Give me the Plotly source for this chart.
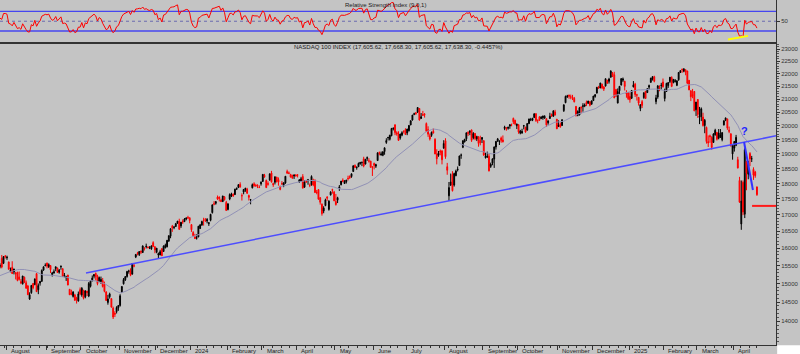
import numpy as np
import pandas as pd
import plotly.graph_objects as go

# ---------------- data ----------------
holidays = ["2023-09-04", "2023-11-23", "2023-12-25", "2024-01-01", "2024-01-15",
            "2024-02-19", "2024-03-29", "2024-05-27", "2024-06-19", "2024-07-04",
            "2024-09-02", "2024-11-28", "2024-12-25", "2025-01-01", "2025-01-09",
            "2025-01-20", "2025-02-17", "2025-04-18"]
dates = pd.bdate_range("2023-07-26", "2025-04-21", freq="C", holidays=holidays)

# closes before the visible window (12 Jun - 25 Jul 2023), used for the average / RSI warm-up
warmup_close = [14738, 14858, 14979, 15179, 15083, 15062, 14852, 15042, 14891, 14675,
                14917, 14940, 14892, 15179, 15183, 15213, 15082, 15036, 15009, 15077,
                15319, 15632, 15565, 15762, 15871, 15842, 15485, 15407, 15434, 15534]

open_ = [
    15480, 15700, 15560, 15770,
    15720, 15600, 15330, 15450, 15320, 15290, 15310, 15180, 15050, 14990, 15170, 15020, 14930, 14580, 14750, 15000, 14970, 15270, 14830, 15010, 15060, 15370, 15490,
    15570, 15460, 15500, 15240, 15290, 15410, 15430, 15310, 15460, 15410, 15190, 15160, 15230, 14840, 14740, 14650, 14690, 14600, 14530, 14830,
    14690, 14810, 14640, 14790, 14660, 14920, 15070, 15200, 15280, 15200, 15060, 15050, 15080, 14970, 14770, 14490, 14640, 14590, 14340, 14210, 14250, 14350,
    14410, 14770, 14990, 15100, 15190, 15330, 15360, 15260, 15490, 15740, 15860, 15810, 15910, 15870, 16000, 16040, 16030, 16000, 15980, 16160, 16040,
    15880, 15800, 15800, 15980, 15900, 16010, 16040, 16210, 16350, 16650, 16610, 16640, 16740, 16800, 16660, 16800, 16790, 16870, 16920, 16910,
    16700, 16460, 16330, 16290, 16330, 16580, 16690, 16840, 16860, 16810, 16730, 16830, 17070, 17350, 17360, 17560, 17560, 17460, 17420, 17570, 17390,
    17170, 17500, 17600, 17650, 17640, 17810, 17870, 17970, 17610, 17720, 17800, 17820, 17610, 17470, 17860, 17990, 17940, 17950, 17880, 17990,
    18070, 18270, 18100, 18000, 18110, 18350, 18000, 18040, 18210, 18130, 17900, 18000, 17930, 18020, 18400, 18350, 18300, 18270, 18250, 18280,
    18290, 18060, 18070, 18230, 17880, 18090, 18100, 17940, 17960, 18110, 18100, 17710, 17800, 17540, 17330, 17120, 17290, 17560, 17170, 17630, 17800, 17720,
    17420, 17460, 17830, 17960, 18110, 18000, 18060, 18170, 18230, 18230, 18400, 18600, 18530, 18560, 18660, 18700, 18830, 18650, 18840, 18760, 18750, 18560,
    18670, 18580, 18770, 19050, 18960, 18950, 19080, 19400, 19570, 19510, 19640, 19890, 20030, 19750, 19690, 19560, 19660, 19790, 19860,
    19740, 19820, 20030, 20210, 20420, 20480, 20510, 20640, 20270, 20420, 20420, 20080, 19860, 19640, 19650, 19800, 19510, 19000, 18950, 19100, 19100, 19200,
    19460, 18560, 17600, 17950, 18300, 17950, 18260, 18450, 18600, 18950, 19230, 19420, 19530, 19760, 19760, 19850, 19570, 19720, 19520, 19600, 19480, 19510,
    19460, 18870, 18880, 18920, 18570, 18690, 18820, 19240, 19440, 19430, 19560, 19490, 19900, 19930, 19910, 19990, 20030, 20270, 20200, 20000,
    20040, 19730, 19740, 19990, 19950, 19840, 20080, 20210, 20200, 20300, 20440, 20200, 20330, 20260, 20290, 20290, 20260, 20110, 20270, 20420, 20350, 20510, 20240,
    19970, 20050, 20010, 20560, 20860, 21090, 21150, 21080, 21060, 21030, 20720, 20380, 20400, 20700, 20720, 20730, 20870, 20840, 20900, 20800,
    20940, 21100, 21230, 21470, 21430, 21570, 21470, 21500, 21730, 21690, 21850, 22010, 21950, 21370, 20850, 21320, 21540, 21730, 21690, 21240, 21250,
    21100, 21030, 21470, 21580, 21160, 21060, 20640, 20900, 21050, 21300, 21250, 21460, 21650, 21770, 21870, 20900, 21080, 21450, 21520, 21660,
    21020, 21290, 21520, 21680, 21840, 21640, 21680, 21530, 21750, 22040, 22170, 22090, 22150, 22100, 21730, 21320, 21170, 21290, 20590,
    20980, 20310, 20340, 20320, 20010, 19940, 19430, 19640, 19580, 19400, 19680, 19760, 19550, 19580, 19500, 20030, 20200, 20250, 19840, 19710, 19000,
    19200, 19300, 18800, 18100, 16720, 18040, 17020, 18740, 18310, 19010, 18830, 18470, 18380, 17890,
]

high = [
    15560, 15800, 15770, 15800,
    15780, 15610, 15440, 15620, 15410, 15320, 15320, 15330, 15120, 15210, 15190, 15080, 14960, 14760, 14960, 15010, 15140, 15290, 15000, 15070, 15390, 15470, 15560,
    15580, 15560, 15510, 15320, 15390, 15470, 15440, 15400, 15500, 15420, 15290, 15210, 15240, 14850, 14830, 14790, 14720, 14640, 14780, 14890,
    14900, 14830, 14810, 14800, 15040, 15080, 15220, 15260, 15300, 15240, 15190, 15190, 15150, 15050, 14790, 14690, 14750, 14600, 14380, 14260, 14390, 14420,
    14710, 14920, 15150, 15200, 15350, 15380, 15420, 15570, 15550, 15830, 15890, 15910, 15930, 16080, 16020, 16130, 16050, 16060, 16080, 16200, 16050,
    16000, 15870, 15950, 16000, 16080, 16130, 16230, 16370, 16590, 16690, 16660, 16750, 16810, 16880, 16780, 16860, 16900, 16910, 16970, 16920,
    16710, 16500, 16420, 16410, 16660, 16720, 16820, 16910, 16900, 16900, 16770, 17030, 17320, 17430, 17420, 17610, 17580, 17510, 17600, 17590, 17440,
    17360, 17680, 17700, 17680, 17830, 17870, 17980, 18040, 17680, 17820, 17860, 17860, 17640, 17500, 18000, 18040, 17990, 17970, 17940, 18070,
    18310, 18320, 18130, 18070, 18340, 18420, 18030, 18230, 18220, 18200, 17930, 18080, 18030, 18240, 18460, 18400, 18320, 18290, 18290, 18310,
    18310, 18140, 18220, 18310, 18110, 18120, 18150, 18000, 18270, 18160, 18140, 17790, 17820, 17560, 17360, 17270, 17510, 17590, 17460, 17750, 17830, 17760,
    17660, 17570, 17950, 18080, 18170, 18110, 18120, 18260, 18270, 18330, 18600, 18640, 18560, 18700, 18720, 18740, 18900, 18830, 18910, 18850, 18760, 18570,
    18700, 18660, 19050, 19080, 19080, 19080, 19220, 19550, 19600, 19670, 19920, 19940, 20060, 19800, 19800, 19710, 19800, 19840, 19910,
    19890, 20020, 20190, 20400, 20480, 20510, 20690, 20650, 20470, 20550, 20470, 20120, 19980, 19720, 19790, 19900, 19550, 19160, 19100, 19150, 19130, 19480,
    19550, 18690, 18050, 18330, 18410, 18360, 18460, 18570, 18940, 19010, 19480, 19530, 19750, 19800, 19840, 19860, 19770, 19740, 19640, 19620, 19640, 19590,
    19480, 19060, 19080, 19000, 18700, 18840, 19260, 19450, 19560, 19470, 19610, 19650, 20000, 19950, 19960, 20060, 20080, 20300, 20220, 20080,
    20050, 19850, 19890, 20030, 19960, 20100, 20260, 20290, 20290, 20460, 20470, 20230, 20350, 20350, 20370, 20390, 20270, 20190, 20480, 20450, 20570, 20590, 20250,
    20200, 20120, 20240, 20790, 21130, 21160, 21170, 21170, 21160, 21080, 20730, 20570, 20700, 20710, 20840, 20830, 20940, 20930, 20910, 20940,
    21120, 21170, 21460, 21510, 21630, 21600, 21500, 21800, 21750, 21830, 22133, 22060, 22070, 21390, 21410, 21500, 21800, 21840, 21710, 21340, 21270,
    21250, 21350, 21700, 21630, 21200, 21080, 20800, 20960, 21260, 21310, 21420, 21560, 21830, 21890, 21910, 21160, 21540, 21530, 21630, 21800,
    21400, 21630, 21650, 21860, 21890, 21780, 21780, 21740, 22050, 22130, 22200, 22222, 22170, 22110, 21740, 21330, 21390, 21310, 20890,
    21000, 20700, 20680, 20480, 20250, 19970, 19650, 19680, 19620, 19730, 19890, 19770, 19880, 19880, 19760, 20200, 20300, 20260, 19970, 19720, 19310,
    19450, 19670, 18900, 18220, 18100, 18100, 19200, 18760, 18760, 19060, 18930, 18540, 18420, 17900,
]

low = [
    15420, 15420, 15540, 15700,
    15660, 15380, 15310, 15260, 15250, 15110, 15060, 15080, 14980, 14970, 15010, 14860, 14690, 14557, 14720, 14840, 14950, 14770, 14710, 14940, 15040, 15350, 15480,
    15420, 15430, 15290, 15190, 15270, 15340, 15290, 15270, 15380, 15180, 15170, 15070, 14950, 14690, 14680, 14620, 14530, 14460, 14510, 14680,
    14640, 14570, 14600, 14660, 14630, 14890, 15060, 15140, 15080, 14950, 15050, 14990, 14890, 14760, 14530, 14430, 14590, 14350, 14058, 14110, 14200, 14270,
    14380, 14740, 14970, 15070, 15160, 15270, 15200, 15240, 15450, 15710, 15790, 15770, 15830, 15860, 15930, 15990, 15990, 15970, 15950, 16030, 15850,
    15850, 15710, 15790, 15770, 15890, 15990, 16020, 16180, 16290, 16480, 16560, 16630, 16730, 16550, 16600, 16720, 16780, 16830, 16890, 16740,
    16480, 16350, 16270, 16250, 16320, 16570, 16660, 16670, 16780, 16740, 16660, 16800, 17040, 17300, 17320, 17470, 17420, 17400, 17400, 17450, 17130,
    17140, 17460, 17560, 17570, 17630, 17790, 17850, 17870, 17450, 17650, 17730, 17660, 17450, 17330, 17840, 17890, 17900, 17850, 17850, 17930,
    18050, 18190, 17860, 17930, 18100, 18030, 17890, 17970, 18030, 17930, 17780, 17960, 17880, 17990, 18330, 18310, 18210, 18160, 18150, 18230,
    18200, 18020, 18070, 17840, 17860, 18020, 17960, 17880, 17930, 17910, 17700, 17650, 17480, 17320, 16975, 17050, 17270, 17440, 17130, 17610, 17670, 17430,
    17290, 17370, 17760, 17940, 18040, 17990, 18000, 18100, 18150, 18190, 18390, 18520, 18460, 18550, 18630, 18580, 18540, 18640, 18760, 18700, 18530, 18250,
    18470, 18520, 18760, 18950, 18940, 18920, 18970, 19350, 19470, 19470, 19620, 19830, 19660, 19640, 19460, 19500, 19620, 19720, 19680,
    19660, 19790, 20020, 20190, 20390, 20400, 20470, 20190, 20250, 20360, 20300, 19790, 19600, 19470, 19600, 19720, 18990, 18640, 18900, 18950, 18640, 19180,
    18830, 18290, 17434, 17920, 17740, 17900, 18240, 18400, 18590, 18830, 19200, 19400, 19450, 19630, 19660, 19420, 19510, 19480, 19450, 19250, 19300, 19380,
    18930, 18840, 18870, 18400, 18520, 18610, 18520, 19150, 19430, 19310, 19390, 19400, 19840, 19820, 19860, 19890, 19980, 20060, 20020, 19880,
    19710, 19690, 19710, 19870, 19750, 19830, 20060, 20170, 20170, 20290, 20140, 20090, 20180, 20250, 20220, 20250, 19960, 20040, 20250, 20330, 20330, 20380, 19880,
    19960, 19930, 20000, 20510, 20840, 21040, 21010, 20990, 20960, 20870, 20340, 20350, 20380, 20460, 20520, 20690, 20730, 20810, 20720, 20790,
    20930, 21050, 21210, 21400, 21420, 21380, 21310, 21490, 21600, 21600, 21840, 21860, 21030, 21090, 20830, 21190, 21530, 21660, 21330, 21050, 20960,
    20860, 21000, 21450, 21080, 20940, 20750, 20540, 20660, 21010, 21010, 21230, 21360, 21630, 21720, 21650, 20800, 21010, 21300, 21370, 21440,
    20910, 21280, 21430, 21620, 21460, 21610, 21640, 21500, 21710, 22020, 22030, 22050, 21930, 21580, 21340, 20920, 21030, 20540, 20360,
    20290, 20060, 20170, 19970, 19730, 19360, 19240, 19390, 19150, 19390, 19640, 19470, 19510, 19570, 19440, 20010, 20170, 19850, 19730, 19260, 18800,
    19080, 19270, 18500, 17380, 16542, 16990, 16900, 17780, 18140, 18580, 18720, 18120, 18190, 17600,
]

close = [
    15496, 15455, 15751, 15757,
    15735, 15394, 15365, 15274, 15398, 15266, 15083, 15113, 15018, 15205, 15032, 14868, 14694, 14694, 14945, 14884, 15123, 14777, 14941, 15052, 15360, 15463, 15501,
    15483, 15523, 15382, 15291, 15324, 15462, 15304, 15368, 15477, 15203, 15222, 15185, 14958, 14694, 14701, 14769, 14547, 14572, 14715, 14715,
    14870, 14602, 14799, 14754, 14998, 15070, 15150, 15245, 15189, 14995, 15162, 15112, 14918, 14785, 14542, 14581, 14717, 14367, 14109, 14181, 14355, 14410,
    14666, 14918, 15107, 15189, 15331, 15345, 15227, 15557, 15486, 15813, 15838, 15898, 15883, 16060, 15991, 16049, 16014, 16001, 16063, 16046, 15947,
    15997, 15838, 15895, 15777, 16056, 16085, 16229, 16367, 16575, 16603, 16623, 16730, 16807, 16554, 16770, 16777, 16871, 16906, 16898, 16826,
    16544, 16368, 16282, 16306, 16650, 16690, 16794, 16830, 16833, 16856, 16757, 17017, 17314, 17335, 17417, 17499, 17516, 17422, 17596, 17476, 17137,
    17345, 17642, 17656, 17593, 17814, 17840, 17963, 17882, 17600, 17807, 17845, 17686, 17551, 17481, 17963, 17937, 17919, 17933, 17874, 18044,
    18302, 18223, 17866, 17975, 18317, 18051, 17960, 18223, 18068, 18047, 17808, 17985, 18025, 18240, 18339, 18339, 18211, 18176, 18284, 18255,
    18271, 18121, 18158, 17850, 18052, 18058, 18127, 17935, 18233, 17955, 17706, 17707, 17493, 17395, 17037, 17211, 17471, 17527, 17430, 17718, 17783, 17441,
    17322, 17541, 17890, 18080, 18072, 18069, 18114, 18161, 18200, 18322, 18593, 18537, 18546, 18674, 18710, 18705, 18588, 18808, 18869, 18752, 18539, 18536,
    18608, 18631, 19035, 19022, 19000, 19075, 19211, 19466, 19577, 19659, 19903, 19908, 19752, 19700, 19473, 19701, 19750, 19789, 19683,
    19879, 20012, 20186, 20392, 20439, 20453, 20676, 20211, 20331, 20386, 20398, 19797, 19697, 19523, 19763, 19735, 18997, 18830, 19024, 19059, 18797, 19363,
    18903, 18440, 17867, 18054, 17766, 18331, 18413, 18474, 18927, 18958, 19459, 19509, 19746, 19723, 19800, 19476, 19720, 19544, 19610, 19365, 19389, 19575,
    18960, 18917, 18921, 18421, 18647, 18829, 19239, 19438, 19525, 19447, 19471, 19424, 19953, 19892, 19947, 20033, 20030, 20147, 20070, 20061,
    19777, 19805, 19793, 20000, 19773, 20081, 20250, 20224, 20272, 20439, 20194, 20194, 20199, 20324, 20361, 20342, 20031, 20180, 20352, 20351, 20551, 20394, 19890,
    20033, 19963, 20217, 20779, 21102, 21118, 21109, 21080, 21026, 20895, 20394, 20525, 20668, 20667, 20740, 20776, 20799, 20922, 20761, 20930,
    21113, 21170, 21456, 21418, 21622, 21434, 21383, 21792, 21608, 21780, 22097, 21929, 21049, 21110, 21290, 21492, 21798, 21784, 21487, 21197, 21012,
    20976, 21326, 21550, 21170, 21150, 20847, 20784, 20757, 21238, 21021, 21395, 21520, 21815, 21875, 21691, 21045, 21507, 21411, 21532, 21478,
    21296, 21609, 21641, 21851, 21491, 21767, 21711, 21706, 22042, 22115, 22160, 22175, 22068, 21614, 21353, 21084, 21132, 20551, 20884,
    20414, 20352, 20628, 20009, 20201, 19431, 19385, 19605, 19225, 19704, 19837, 19516, 19737, 19678, 19754, 20180, 20288, 19917, 19799, 19281, 19278,
    19435, 19581, 18521, 17398, 17431, 17090, 19145, 18344, 18690, 18827, 18832, 18277, 18258, 17638,
]

price_ticks = [14000, 14500, 15000, 15500, 16000, 16500, 17000, 17500, 18000, 18500,
               19000, 19500, 20000, 20500, 21000, 21500, 22000, 22500, 23000]
month_names = ["January", "February", "March", "April", "May", "June", "July", "August",
               "September", "October", "November", "December"]
title_text = "NASDAQ 100 INDEX (17,605.62, 17,668.30, 17,605.62, 17,638.30, -0.4457%)"
rsi_title = "Relative Strength Index (9,0,1)"
MA_PERIOD = 30
RSI_PERIOD = 9

# drawn annotations (blue trend line, short blue line, red level, yellow RSI line)
trend_x = [49.4, 445.95]
trend_y = [15289, 19635]
short_x = [427.6, 432.7]
short_y = [19418, 17790]
red_x = [432.2, 445.95]
red_y = [17280, 17280]
yellow_x = [418.4, 429.9]
yellow_y = [12.5, 20.0]
question_x, question_y = 428.1, 19800

assert len(dates) == len(open_) == len(high) == len(low) == len(close), (
    len(dates), len(open_), len(high), len(low), len(close))

# ---------------- indicators ----------------
n = len(close)
full = pd.Series(warmup_close + close, dtype=float)
ma = full.rolling(MA_PERIOD).mean().iloc[len(warmup_close):].to_numpy()
delta = full.diff()
gain = delta.clip(lower=0).ewm(alpha=1 / RSI_PERIOD, adjust=False).mean()
loss = (-delta.clip(upper=0)).ewm(alpha=1 / RSI_PERIOD, adjust=False).mean()
rsi = (100 - 100 / (1 + gain / loss)).iloc[len(warmup_close):].to_numpy()

pos = np.arange(n)
xr = [-0.02, 445.95]

# month / week boundaries
month_idx = [i for i in range(1, n) if dates[i].month != dates[i - 1].month]
week_idx = [i for i in range(1, n) if dates[i].weekday() < dates[i - 1].weekday()
            or (dates[i] - dates[i - 1]).days > 3]

BG = "#c4c4c4"
FONT = "Liberation Sans, Arial, sans-serif"

fig = go.Figure()
fig.add_trace(go.Candlestick(
    x=pos, open=open_, high=high, low=low, close=close,
    increasing=dict(line=dict(color="#000000", width=1), fillcolor="#000000"),
    decreasing=dict(line=dict(color="#ff0000", width=1), fillcolor="#ff0000"),
    whiskerwidth=0, xaxis="x", yaxis="y", showlegend=False, hoverinfo="skip"))
fig.add_trace(go.Scatter(x=pos, y=ma, mode="lines", line=dict(color="#9191b6", width=1),
                         xaxis="x", yaxis="y", showlegend=False, hoverinfo="skip"))
fig.add_trace(go.Scatter(x=trend_x, y=trend_y, mode="lines", line=dict(color="#4d4dff", width=1.5),
                         xaxis="x", yaxis="y", showlegend=False, hoverinfo="skip"))
fig.add_trace(go.Scatter(x=short_x, y=short_y, mode="lines", line=dict(color="#3333ff", width=2),
                         xaxis="x", yaxis="y", showlegend=False, hoverinfo="skip"))
fig.add_trace(go.Scatter(x=red_x, y=red_y, mode="lines", line=dict(color="#ff1a1a", width=2),
                         xaxis="x", yaxis="y", showlegend=False, hoverinfo="skip"))

# RSI panel
for lvl, dash, col, w in [(70, "solid", "#4646f0", 1.3), (30, "solid", "#4646f0", 1.3), (50, "dot", "#6a6ab0", 1)]:
    fig.add_trace(go.Scatter(x=xr, y=[lvl, lvl], mode="lines", line=dict(color=col, width=w, dash=dash),
                             xaxis="x2", yaxis="y2", showlegend=False, hoverinfo="skip"))
fig.add_trace(go.Scatter(x=pos, y=rsi, mode="lines", line=dict(color="#ff0000", width=1),
                         xaxis="x2", yaxis="y2", showlegend=False, hoverinfo="skip"))
fig.add_trace(go.Scatter(x=yellow_x, y=yellow_y, mode="lines", line=dict(color="#ffff00", width=2),
                         xaxis="x2", yaxis="y2", showlegend=False, hoverinfo="skip"))

annotations = []
for i in month_idx:
    d = dates[i]
    txt = str(d.year) if d.month == 1 else month_names[d.month - 1]
    annotations.append(dict(x=i + 1.0, y=0, xref="x", yref="paper", text=txt, showarrow=False,
                            xanchor="left", yanchor="top", yshift=-1,
                            font=dict(family=FONT, size=6, color="#222222")))
annotations.append(dict(x=292 / 776, y=1 - 47 / 345, xref="paper", yref="paper", text=title_text,
                        showarrow=False, xanchor="left", yanchor="middle",
                        font=dict(family=FONT, size=6, color="#222222")))
annotations.append(dict(x=343 / 776, y=1 - 5 / 345, xref="paper", yref="paper", text=rsi_title,
                        showarrow=False, xanchor="left", yanchor="middle",
                        font=dict(family=FONT, size=6, color="#222222")))
annotations.append(dict(x=question_x, y=np.log10(question_y), xref="x", yref="y", text="<b>?</b>",
                        showarrow=False, xanchor="center", yanchor="middle",
                        font=dict(family=FONT, size=11, color="#1f1fff")))

minor_vals = [v for v in range(13500, 23300, 100) if v not in price_ticks]

fig.update_layout(
    width=800, height=354,
    margin=dict(l=0, r=24, t=0, b=9),
    paper_bgcolor=BG, plot_bgcolor=BG,
    showlegend=False,
    font=dict(family=FONT, size=6, color="#222222"),
    xaxis=dict(domain=[0, 1], range=xr, anchor="y", tickvals=[i - 0.5 for i in month_idx],
               ticks="outside", ticklen=4, tickcolor="#333333", showticklabels=False,
               showgrid=False, zeroline=False, showline=True, linecolor="#333333", linewidth=1,
               rangeslider=dict(visible=False),
               minor=dict(ticks="outside", ticklen=2, tickcolor="#333333",
                          tickvals=[i - 0.5 for i in week_idx])),
    yaxis=dict(domain=[0, 0.8754], type="log", range=[np.log10(13407), np.log10(23260)],
               side="right", anchor="x", tickvals=price_ticks, ticktext=[str(v) for v in price_ticks],
               ticks="outside", ticklen=3, tickcolor="#333333", showline=True, linecolor="#333333",
               showgrid=False, zeroline=False, tickfont=dict(size=6, color="#333333"),
               minor=dict(ticks="outside", ticklen=2, tickcolor="#555555", tickvals=minor_vals)),
    xaxis2=dict(domain=[0, 1], range=xr, anchor="y2", showticklabels=False, ticks="",
                showgrid=False, zeroline=False, showline=True, linecolor="#333333", linewidth=2),
    yaxis2=dict(domain=[0.8783, 1], range=[7.5, 93.5], side="right", anchor="x2",
                tickvals=[50], ticktext=["50"], ticks="outside", ticklen=3, tickcolor="#333333",
                showline=True, linecolor="#333333", showgrid=False, zeroline=False,
                tickfont=dict(size=6, color="#333333")),
    annotations=annotations,
    shapes=[dict(type="rect", xref="paper", yref="paper", x0=1.0015, x1=1.05, y0=-0.04, y1=-0.001,
                 fillcolor="#ffffff", line=dict(width=0), layer="above")],
)

fig.write_html("out.html")
